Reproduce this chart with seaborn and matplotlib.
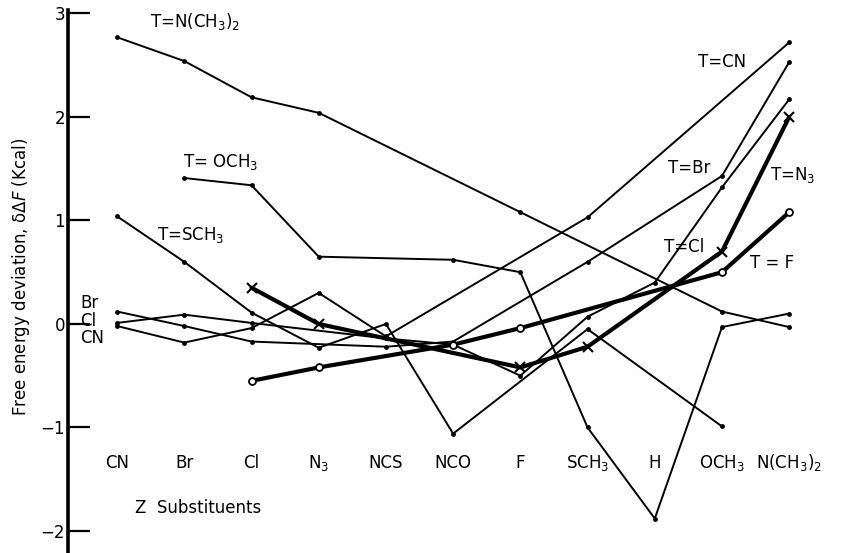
import numpy as np
import pandas as pd
import matplotlib
matplotlib.use("Agg")
import matplotlib.pyplot as plt
import seaborn as sns

nan = np.nan

# Z substituents along the x axis
categories = ["CN", "Br", "Cl", "N$_3$", "NCS", "NCO", "F", "SCH$_3$", "H", "OCH$_3$", "N(CH$_3$)$_2$"]

# free energy deviation (kcal) for each T series, nan = no point
t_nme2 = [2.77, 2.54, 2.19, 2.04, nan, nan, 1.08, nan, nan, 0.12, -0.03]
t_ome = [nan, 1.41, 1.34, 0.65, nan, 0.62, 0.50, -1.00, -1.88, -0.03, 0.10]
t_sme = [1.04, 0.60, 0.11, -0.23, 0.00, -1.06, nan, -0.05, nan, -0.99, nan]
t_cn = [-0.02, -0.18, -0.04, 0.30, -0.12, nan, nan, 1.03, nan, nan, 2.72]
t_br = [0.12, -0.02, -0.17, nan, -0.22, -0.17, nan, 0.60, nan, 1.43, 2.53]
t_cl = [0.01, 0.09, 0.01, nan, -0.14, -0.20, -0.50, 0.07, 0.40, 1.32, 2.17]
t_n3 = [nan, nan, 0.35, 0.00, nan, nan, -0.42, -0.22, nan, 0.70, 2.00]
t_f = [nan, nan, -0.55, -0.42, nan, -0.20, -0.04, nan, nan, 0.50, 1.08]

thin_series = [t_nme2, t_ome, t_sme, t_cn, t_br, t_cl]

sns.set_theme(style="white")
plt.rcParams["font.family"] = ["DejaVu Sans"]
plt.rcParams["mathtext.default"] = "regular"
plt.rcParams["text.color"] = "black"
plt.rcParams["axes.labelcolor"] = "black"
plt.rcParams["ytick.color"] = "black"

fig = plt.figure(figsize=(8.47, 5.53), dpi=100)
ax = fig.add_axes([0.0803, 0.0, 0.9197, 1.0])

x_idx = np.arange(len(categories))

def draw(values, **kw):
    df = pd.DataFrame({"x": x_idx, "y": values}).dropna()
    sns.lineplot(data=df, x="x", y="y", ax=ax, color="black", sort=False,
                 estimator=None, legend=False, **kw)

for s in thin_series:
    draw(s, lw=1.4, marker="o", markersize=3.5, markeredgewidth=0)

# thick series
draw(t_n3, lw=3.0, marker="x", markersize=7, markeredgewidth=1.5, markeredgecolor="black")
draw(t_f, lw=3.0, marker="o", markersize=5, markerfacecolor="white",
     markeredgecolor="black", markeredgewidth=1.3)

ax.set_xlim(-0.73, 10.86)
ax.set_ylim(-2.213, 3.13)

for s in ["top", "right", "bottom"]:
    ax.spines[s].set_visible(False)
ax.spines["left"].set_linewidth(2.6)
ax.spines["left"].set_color("black")
ax.spines["left"].set_bounds(-2.213, 3.03)

ax.set_xticks([])
ax.set_yticks([3, 2, 1, 0, -1, -2])
ax.set_yticklabels(["3", "2", "1", "0", "\u22121", "\u22122"])
ax.tick_params(axis="y", direction="in", length=16, width=1.6, labelsize=12,
               pad=2, left=True, color="black", labelcolor="black")
ax.set_xlabel("")
ax.set_ylabel("Free energy deviation, $\\delta\\Delta \\mathit{F}$ (Kcal)", fontsize=12, labelpad=6)

# category names inside the plot
for i, c in enumerate(categories):
    ax.text(i, -1.34, c, ha="center", va="center", fontsize=12)
ax.text(0.27, -1.78, "Z  Substituents", ha="left", va="center", fontsize=12)

# series labels
fs = 12
ax.text(0.49, 2.92, "T=N(CH$_3$)$_2$", ha="left", va="center", fontsize=fs)
ax.text(0.98, 1.56, "T= OCH$_3$", ha="left", va="center", fontsize=fs)
ax.text(0.60, 0.86, "T=SCH$_3$", ha="left", va="center", fontsize=fs)
ax.text(-0.55, 0.20, "Br", ha="left", va="center", fontsize=fs)
ax.text(-0.55, 0.03, "Cl", ha="left", va="center", fontsize=fs)
ax.text(-0.55, -0.14, "CN", ha="left", va="center", fontsize=fs)
ax.text(8.65, 2.53, "T=CN", ha="left", va="center", fontsize=fs)
ax.text(8.20, 1.51, "T=Br", ha="left", va="center", fontsize=fs)
ax.text(9.72, 1.44, "T=N$_3$", ha="left", va="center", fontsize=fs)
ax.text(8.13, 0.74, "T=Cl", ha="left", va="center", fontsize=fs)
ax.text(9.42, 0.59, "T = F", ha="left", va="center", fontsize=fs)

fig.savefig("out.png", dpi=100)
